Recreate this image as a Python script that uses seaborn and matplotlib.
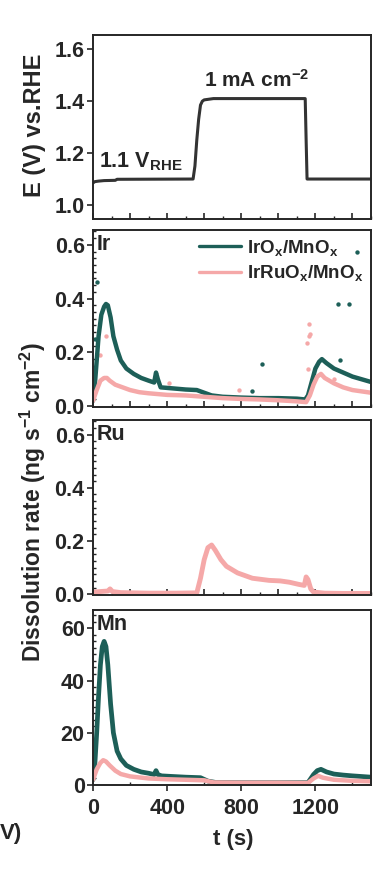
import matplotlib
matplotlib.use("Agg")
import matplotlib.pyplot as plt
from matplotlib.ticker import MultipleLocator, AutoMinorLocator
import seaborn as sns

# ---- data ----
# potential profile
e_t = [0, 10, 30, 60, 120, 130, 540, 550, 560, 570, 580, 590, 600, 650, 1145, 1150, 1155, 1500]
e_v = [1.085, 1.09, 1.092, 1.094, 1.095, 1.099, 1.10, 1.15, 1.25, 1.33, 1.385, 1.40, 1.405, 1.41,
       1.41, 1.25, 1.10, 1.10]

# Ir dissolution
ir_t_a = [0, 10, 20, 30, 45, 60, 70, 80, 95, 110, 130, 150, 180, 220, 260, 300, 330, 340, 350,
          365, 400, 450, 500, 560, 600, 640, 700, 800, 900, 1000, 1100, 1145, 1160, 1180, 1200,
          1220, 1235, 1260, 1300, 1350, 1400, 1450, 1500]
ir_a = [0.02, 0.08, 0.17, 0.26, 0.34, 0.37, 0.38, 0.375, 0.33, 0.26, 0.21, 0.17, 0.14, 0.12,
        0.105, 0.095, 0.088, 0.125, 0.10, 0.07, 0.068, 0.065, 0.062, 0.06, 0.05, 0.04, 0.035,
        0.032, 0.03, 0.03, 0.028, 0.025, 0.04, 0.09, 0.14, 0.165, 0.175, 0.16, 0.14, 0.125,
        0.11, 0.10, 0.09]
ir_t_b = [0, 20, 40, 60, 75, 90, 120, 160, 200, 250, 300, 400, 500, 600, 700, 800, 900, 1000,
          1100, 1150, 1170, 1190, 1210, 1230, 1250, 1300, 1350, 1400, 1450, 1500]
ir_b = [0.02, 0.06, 0.095, 0.105, 0.105, 0.095, 0.08, 0.07, 0.06, 0.052, 0.048, 0.042, 0.04,
        0.035, 0.03, 0.027, 0.025, 0.022, 0.018, 0.015, 0.04, 0.08, 0.11, 0.12, 0.105, 0.085,
        0.07, 0.06, 0.055, 0.05]
# stray points
ir_out_t_a = [10, 20, 856, 910, 1320, 1333, 1383, 1423]
ir_out_a = [0.25, 0.46, 0.055, 0.155, 0.38, 0.17, 0.38, 0.575]
ir_out_t_b = [38, 70, 412, 790, 1155, 1158, 1163, 1167, 1171, 1300]
ir_out_b = [0.19, 0.26, 0.087, 0.06, 0.235, 0.14, 0.26, 0.305, 0.27, 0.10]

# Ru dissolution (IrRuOx only)
ru_t = [0, 40, 80, 92, 105, 150, 300, 450, 560, 580, 600, 620, 640, 660, 690, 720, 780, 860,
        950, 1010, 1060, 1110, 1140, 1150, 1160, 1175, 1190, 1250, 1350, 1500]
ru_b = [0.008, 0.01, 0.012, 0.02, 0.01, 0.006, 0.004, 0.004, 0.005, 0.06, 0.13, 0.175, 0.185,
        0.165, 0.13, 0.105, 0.08, 0.06, 0.052, 0.05, 0.045, 0.037, 0.033, 0.065, 0.055, 0.02,
        0.008, 0.004, 0.003, 0.003]

# Mn dissolution
mn_t_a = [0, 10, 20, 30, 40, 50, 60, 70, 80, 95, 110, 130, 150, 180, 220, 260, 300, 330, 340,
          350, 370, 420, 500, 580, 620, 660, 800, 1000, 1160, 1190, 1210, 1230, 1260, 1300, 1350,
          1400, 1500]
mn_a = [2, 8, 20, 34, 46, 53, 55, 53, 46, 31, 20, 13, 10, 7.5, 6, 5, 4.5, 4, 5.5, 4, 3.5, 3.3,
        3.0, 2.8, 1.5, 1.0, 0.9, 0.9, 0.9, 4, 5.5, 6, 5, 4.2, 3.8, 3.5, 3.0]
mn_t_b = [0, 20, 40, 55, 70, 90, 120, 150, 200, 300, 400, 500, 600, 650, 800, 1000, 1160, 1190,
          1215, 1240, 1300, 1400, 1500]
mn_b = [2, 6, 8.5, 9.5, 9, 7.5, 5.5, 4.2, 3.3, 2.5, 2.2, 2.0, 1.8, 1.0, 0.9, 0.9, 0.8, 2.5,
        3.5, 2.8, 2.0, 1.6, 1.4]

labels = ["IrO$_x$/MnO$_x$", "IrRuO$_x$/MnO$_x$"]
teal = "#1d5f58"
pink = "#f5a8a8"

sns.set_style("ticks")
plt.rcParams["font.family"] = ["Liberation Sans", "DejaVu Sans"]
plt.rcParams["font.weight"] = "bold"
plt.rcParams["mathtext.fontset"] = "custom"
plt.rcParams["mathtext.rm"] = "Liberation Sans:bold"
plt.rcParams["mathtext.it"] = "Liberation Sans:bold"
plt.rcParams["mathtext.bf"] = "Liberation Sans:bold"
plt.rcParams["axes.linewidth"] = 1.4

TICK = 15.5

fig = plt.figure(figsize=(3.76, 8.77), dpi=100)
W = 376.0
H = 877.0


def add_ax(top, bottom):
    return fig.add_axes([93 / W, 1 - bottom / H, 278 / W, (bottom - top) / H])


ax_e = add_ax(35, 219)
ax_ir = add_ax(230, 407)
ax_ru = add_ax(420, 595)
ax_mn = add_ax(610, 785)

# potential
sns.lineplot(x=e_t, y=e_v, ax=ax_e, color="#333333", lw=2.2)
ax_e.set_ylim(0.946, 1.655)
ax_e.yaxis.set_major_locator(MultipleLocator(0.2))
ax_e.set_ylabel("")
ax_e.text(885, 1.455, "1 mA cm$^{-2}$", fontsize=15, fontweight="bold", ha="center")
ax_e.text(30, 1.145, "1.1 V$_{RHE}$", fontsize=15.5, fontweight="bold", ha="left")

# Ir
sns.lineplot(x=ir_t_a, y=ir_a, ax=ax_ir, color=teal, lw=3.2, label=labels[0])
sns.lineplot(x=ir_t_b, y=ir_b, ax=ax_ir, color=pink, lw=3.2, label=labels[1])
sns.scatterplot(x=ir_out_t_a, y=ir_out_a, ax=ax_ir, color=teal, s=10, linewidth=0)
sns.scatterplot(x=ir_out_t_b, y=ir_out_b, ax=ax_ir, color=pink, s=10, linewidth=0)
ax_ir.set_ylim(-0.003, 0.655)
leg = ax_ir.legend(loc="upper right", frameon=False, fontsize=13.5, handlelength=2.2,
                   handletextpad=0.35, labelspacing=0.3, borderaxespad=0.0,
                   bbox_to_anchor=(1.0, 1.0))
for line in leg.get_lines():
    line.set_linewidth(2.4)

# Ru
sns.lineplot(x=ru_t, y=ru_b, ax=ax_ru, color=pink, lw=3.5)
ax_ru.set_ylim(-0.003, 0.655)

# Mn
sns.lineplot(x=mn_t_a, y=mn_a, ax=ax_mn, color=teal, lw=3.4)
sns.lineplot(x=mn_t_b, y=mn_b, ax=ax_mn, color=pink, lw=3.2)
ax_mn.set_ylim(0, 67)
ax_mn.yaxis.set_major_locator(MultipleLocator(20))
ax_mn.set_xlabel("")

for ax, name in [(ax_ir, "Ir"), (ax_ru, "Ru"), (ax_mn, "Mn")]:
    ax.text(0.012, 0.975, name, transform=ax.transAxes, fontsize=15.5, fontweight="bold",
            ha="left", va="top")

for ax in [ax_ir, ax_ru]:
    ax.yaxis.set_major_locator(MultipleLocator(0.2))
    ax.set_ylabel("")

for ax in [ax_e, ax_ir, ax_ru, ax_mn]:
    ax.set_xlim(0, 1500)
    ax.xaxis.set_major_locator(MultipleLocator(200))
    ax.xaxis.set_minor_locator(MultipleLocator(100))
    ax.tick_params(axis="x", which="major", direction="in", length=4, width=1.2,
                   labelsize=TICK, pad=5)
    ax.tick_params(axis="x", which="minor", direction="in", length=2, width=1)
    ax.tick_params(axis="y", which="major", direction="out", length=4, width=1.2,
                   labelsize=TICK, pad=2)
    if ax is not ax_e:
        ax.yaxis.set_minor_locator(AutoMinorLocator(8))
        ax.tick_params(axis="y", which="minor", direction="in", length=2, width=1)
    for lab in ax.get_yticklabels():
        lab.set_fontweight("bold")
    for sp in ax.spines.values():
        sp.set_visible(True)
        sp.set_linewidth(1.4)
    if ax is not ax_mn:
        ax.tick_params(axis="x", labelbottom=False)

ax_mn.set_xticks([0, 400, 800, 1200])
ax_mn.set_xticklabels(["0", "400", "800", "1200"], fontweight="bold")
ax_mn.xaxis.set_minor_locator(MultipleLocator(200))
ax_mn.tick_params(axis="x", which="major", direction="out", length=4)

fig.text(34 / W, 1 - 125 / H, "E (V) vs.RHE", rotation=90, fontsize=17, fontweight="bold",
         ha="center", va="center")
fig.text(33 / W, 1 - 502 / H, "Dissolution rate (ng s$^{-1}$ cm$^{-2}$)", rotation=90,
         fontsize=16.5, fontweight="bold", ha="center", va="center")
fig.text(233 / W, 1 - 840 / H, "t (s)", fontsize=16, fontweight="bold",
         ha="center", va="center")
fig.text(0, 1 - 833 / H, "V)", fontsize=16, fontweight="bold", ha="left", va="center")

fig.savefig("out.png", dpi=100)
